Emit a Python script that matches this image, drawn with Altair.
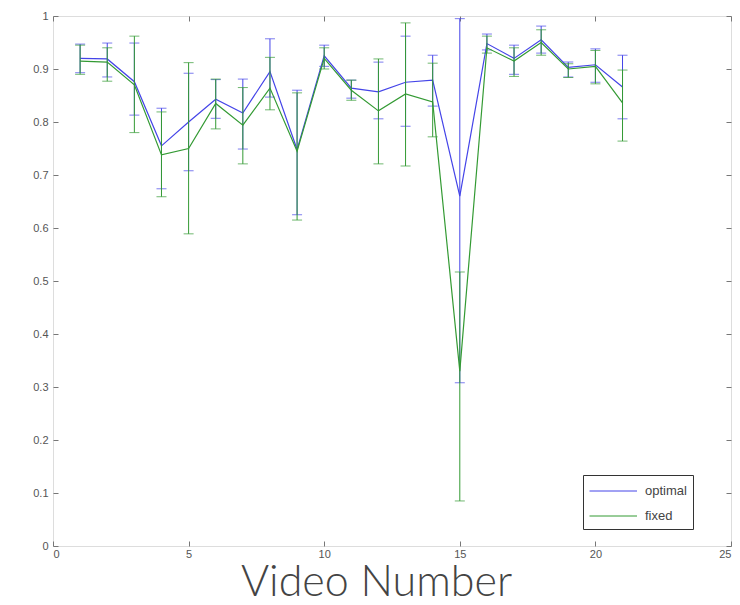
import altair as alt
import pandas as pd

# ---- data ----
video = list(range(1, 22))

opt_mean = [0.920, 0.919, 0.876, 0.755, 0.800, 0.843, 0.817, 0.895, 0.748, 0.925, 0.864,
            0.857, 0.875, 0.879, 0.660, 0.948, 0.920, 0.955, 0.903, 0.908, 0.866]
opt_lo = [0.893, 0.885, 0.813, 0.674, 0.708, 0.807, 0.749, 0.847, 0.625, 0.905, 0.845,
          0.806, 0.792, 0.830, 0.308, 0.936, 0.890, 0.930, 0.885, 0.875, 0.806]
opt_hi = [0.947, 0.949, 0.949, 0.826, 0.892, 0.880, 0.881, 0.957, 0.860, 0.945, 0.879,
          0.913, 0.962, 0.926, 0.995, 0.966, 0.945, 0.981, 0.913, 0.938, 0.926]

fix_mean = [0.915, 0.913, 0.870, 0.738, 0.750, 0.835, 0.794, 0.864, 0.745, 0.920, 0.860,
            0.821, 0.853, 0.838, 0.330, 0.940, 0.915, 0.950, 0.900, 0.905, 0.836]
fix_lo = [0.890, 0.877, 0.780, 0.659, 0.589, 0.787, 0.721, 0.823, 0.615, 0.900, 0.841,
          0.721, 0.717, 0.772, 0.085, 0.930, 0.886, 0.926, 0.884, 0.872, 0.764]
fix_hi = [0.945, 0.940, 0.962, 0.819, 0.912, 0.881, 0.865, 0.922, 0.855, 0.940, 0.879,
          0.919, 0.987, 0.911, 0.517, 0.962, 0.940, 0.974, 0.910, 0.935, 0.898]

series_names = ["optimal", "fixed"]
series_colors = ["#4444e8", "#339a33"]
x_ticks = [0, 5, 10, 15, 20, 25]
y_ticks = [0, 0.1, 0.2, 0.3, 0.4, 0.5, 0.6, 0.7, 0.8, 0.9, 1.0]

opt = pd.DataFrame({"x": video, "mean": opt_mean, "lo": opt_lo, "hi": opt_hi, "series": "optimal"})
fix = pd.DataFrame({"x": video, "mean": fix_mean, "lo": fix_lo, "hi": fix_hi, "series": "fixed"})

xscale = alt.Scale(domain=[0, 25], nice=False, zero=False)
yscale = alt.Scale(domain=[0, 1], nice=False)
cscale = alt.Scale(domain=series_names, range=series_colors)

LABEL_FONT = "Liberation Sans"

x_axis = alt.Axis(values=x_ticks, format="~g", grid=False, domain=False, tickSize=5, offset=-5,
                  tickColor="#777", labelFont=LABEL_FONT, labelFontSize=11, labelColor="#555",
                  labelPadding=2, title="Video Number", titleFont="Lato", titleFontSize=43,
                  titleFontWeight=300, titleColor="#444", titleBaseline="alphabetic",
                  titleX=323, titleY=54, titleAlign="center")
y_axis = alt.Axis(values=y_ticks, format="~g", grid=False, domain=False, tickSize=5, offset=-5,
                  tickColor="#777", labelFont=LABEL_FONT, labelFontSize=11, labelColor="#555",
                  labelPadding=5, title=None)


def series_layers(df, color):
    rules = alt.Chart(df).mark_rule(color=color, strokeWidth=1).encode(
        x=alt.X("x:Q", scale=xscale, axis=x_axis),
        y=alt.Y("lo:Q", scale=yscale, axis=y_axis),
        y2="hi:Q",
    )
    caps = alt.Chart(df).transform_fold(["lo", "hi"], as_=["end", "val"]).mark_tick(
        color=color, orient="horizontal", size=10, thickness=1
    ).encode(
        x=alt.X("x:Q", scale=xscale, axis=x_axis),
        y=alt.Y("val:Q", scale=yscale, axis=y_axis),
    )
    line = alt.Chart(df).mark_line(strokeWidth=1.2).encode(
        x=alt.X("x:Q", scale=xscale, axis=x_axis),
        y=alt.Y("mean:Q", scale=yscale, axis=y_axis),
        color=alt.Color("series:N", scale=cscale, sort=series_names,
                        legend=alt.Legend(title=None, orient="none", legendX=530, legendY=459,
                                          symbolType="M-1,0H4", symbolSize=361, symbolStrokeWidth=1,
                                          labelFont=LABEL_FONT, labelFontSize=13, labelColor="#444",
                                          labelOffset=36, rowPadding=8, padding=6,
                                          labelExpr="datum.label + '\u00a0\u00a0\u00a0'",
                                          strokeColor="#333", fillColor="white")),
    )
    return [rules, caps, line]


main = alt.layer(*series_layers(opt, series_colors[0]), *series_layers(fix, series_colors[1]))

frame_axes = alt.Chart(opt).mark_point(opacity=0).encode(
    x=alt.X("x:Q", scale=xscale,
            axis=alt.Axis(orient="top", values=x_ticks, labels=False, grid=False, domain=False,
                          tickSize=5, offset=-5, tickColor="#777", title=None)),
    y=alt.Y("mean:Q", scale=yscale,
            axis=alt.Axis(orient="right", values=y_ticks, labels=False, grid=False, domain=False,
                          tickSize=5, offset=-5, tickColor="#777", title=None)),
)

chart = alt.layer(main, frame_axes).resolve_axis(x="independent", y="independent").properties(
    width=678, height=530,
    autosize=alt.AutoSizeParams(type="none"),
    padding={"left": 45, "top": 8, "right": 1, "bottom": 51},
).configure_view(stroke="#777", strokeWidth=1.5).configure(background="white")

chart.save("out.html", embed_options={"renderer": "svg", "actions": False})
